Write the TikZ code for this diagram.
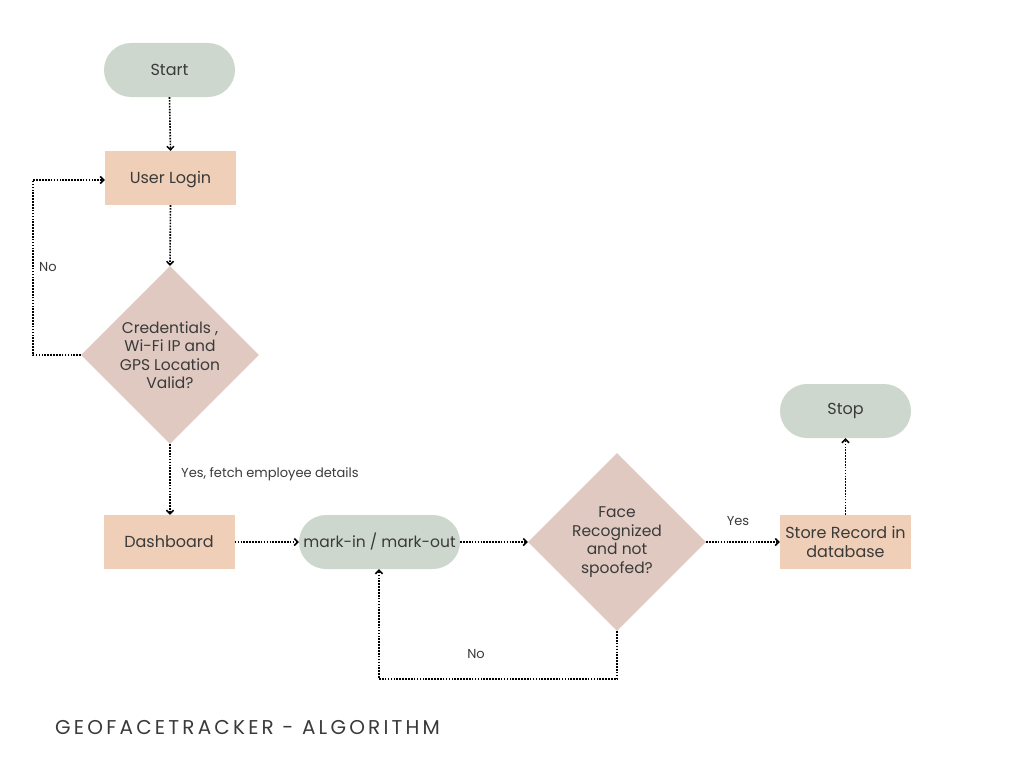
\documentclass[tikz,border=0pt]{standalone}
\usepackage{fontspec}
\setmainfont{Poppins}
\newfontfamily\titlefont[LetterSpace=16]{Poppins}
\usetikzlibrary{shapes.geometric,arrows.meta}
\definecolor{pillc}{HTML}{CDD7CD}
\definecolor{boxc}{HTML}{EFCFB7}
\definecolor{diac}{HTML}{DFC9C0}
\definecolor{txt}{HTML}{3A3A3A}
\tikzset{
  every node/.style={text=txt},
  pill/.style={fill=pillc, rectangle, rounded corners=27pt, minimum width=131pt, minimum height=54pt, inner sep=0pt, font=\fontsize{16}{18}\selectfont},
  procbox/.style={fill=boxc, rectangle, minimum width=131pt, minimum height=54pt, inner sep=0pt, align=center, font=\fontsize{16}{19}\selectfont},
  decision/.style={fill=diac, diamond, minimum width=178pt, minimum height=178pt, inner sep=0pt, align=center, font=\fontsize{15.5}{18.5}\selectfont},
  conn/.style={draw=black, line width=1.6pt, dash pattern=on 1.6pt off 1.3pt, -{Straight Barb[length=3.5pt,width=7pt,line width=1.5pt]}},
  lbl/.style={font=\fontsize{13}{15}\selectfont, inner sep=0pt}
}
\begin{document}
\begin{tikzpicture}[x=1pt,y=-1pt]
\useasboundingbox (0,0) rectangle (1024,768);
\node[pill] (start) at (169.5,70) {Start};
\node[procbox, text depth=2pt] (login) at (170.5,178) {User Login};
\node[decision] (cred) at (170,355) {Credentials ,\\Wi-Fi IP and\\GPS Location\\Valid?};
\node[procbox] (dash) at (169,542) {Dashboard};
\node[pill, minimum width=161pt, font=\fontsize{15.5}{18}\selectfont] (mark) at (379.5,542) {mark-in / mark-out};
\node[decision] (face) at (617,542) {Face\\Recognized\\and not\\spoofed?};
\node[procbox] (store) at (845.5,542) {Store Record in\\database};
\node[pill] (stop) at (845.5,411) {Stop};

\coordinate (nl1) at (33,355);
\coordinate (nl2) at (33,180);
\coordinate (nb1) at (617,679);
\coordinate (nb2) at (379,679);

\draw[conn] (start.south) -- (login.north);
\draw[conn] (login.south) -- (cred.north);
\draw[conn] (cred.west) -- (nl1) -- (nl2) -- (login.west |- nl2);
\draw[conn] (cred.south) -- (cred.south |- dash.north);
\draw[conn] (dash.east) -- (mark.west);
\draw[conn] (mark.east) -- (face.west);
\draw[conn] (face.east) -- (store.west);
\draw[conn] (face.south) -- (nb1) -- (nb2) -- (nb2 |- mark.south);
\draw[conn] (store.north) -- (stop.south);

\node[lbl, anchor=west] (lno1) at (39,267) {No};
\node[lbl, anchor=west] (lyes1) at (181,474) {Yes, fetch employee details};
\node[lbl] (lyes2) at (738,521) {Yes};
\node[lbl] (lno2) at (476,654) {No};
\node[anchor=west, inner sep=0pt, font=\titlefont\fontsize{20}{22}\selectfont] (title) at (55,727) {GEOFACETRACKER - ALGORITHM};
\end{tikzpicture}
\end{document}
